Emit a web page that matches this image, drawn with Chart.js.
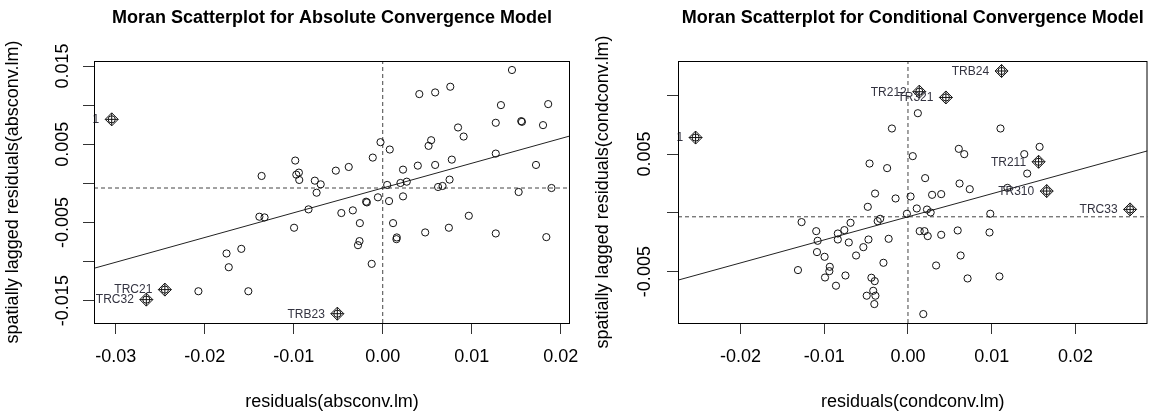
<!DOCTYPE html>
<html>
<head>
<meta charset="utf-8">
<script src="https://cdn.jsdelivr.net/npm/chart.js@4.4.0/dist/chart.umd.min.js"></script>
<style>
  html, body { margin: 0; padding: 0; background: #fff; overflow: hidden; }
  #wrap { position: relative; width: 1155px; height: 414px; }
  canvas { position: absolute; top: 0; }
  #absChart { left: 0; width: 590px; height: 414px; }
  #condChart { left: 577px; width: 578px; height: 414px; }
</style>
</head>
<body>
<div id="wrap">
  <canvas id="absChart" width="590" height="414"></canvas>
  <canvas id="condChart" width="578" height="414"></canvas>
</div>
<script>
// --- absolute convergence model ---
const absResid = [0.01452, 0.00411, 0.00589, 0.00759, 0.01328, 0.01859, 0.01270, 0.01556, 0.01564, 0.01801,
  0.00846, 0.00909, 0.00544, 0.00515, -0.00025, 0.00079, 0.01270, -0.00112, 0.00776, 0.00589,
  0.00394, 0.00228, 0.01722, -0.00382, -0.00527, -0.00983, -0.01361, -0.00971, -0.00942, -0.00938,
  -0.00763, -0.00697, -0.00743, 0.00050, 0.00199, 0.00270, 0.00751, 0.00622, 0.00672, 0.01527,
  0.01896, -0.00054, 0.00071, 0.00228, -0.00187, -0.00178, -0.00834, -0.00336, -0.00465, -0.01386,
  -0.01328, 0.00967, 0.00116, -0.00257, -0.00996, 0.00477, 0.00743, 0.01270, 0.01838, 0.00158,
  0.00154, -0.00261, -0.00278, -0.00124, -0.01589, -0.01755, -0.01730, -0.02071, -0.01510];
const absLagged = [0.01449, 0.01141, 0.01162, 0.01235, 0.01000, 0.01013, 0.00774, 0.00795, 0.00786, 0.00744,
  0.00714, 0.00598, 0.00551, 0.00479, 0.00526, 0.00432, 0.00380, 0.00329, 0.00303, 0.00235,
  0.00226, 0.00175, 0.00235, 0.00209, 0.00162, 0.00291, 0.00094, 0.00111, 0.00137, 0.00043,
  0.00034, -0.00013, -0.00120, -0.00021, 0.00004, 0.00021, 0.00047, -0.00047, -0.00034, -0.00111,
  -0.00060, -0.00179, -0.00227, -0.00167, -0.00235, -0.00244, -0.00333, -0.00346, -0.00380, -0.00427,
  -0.00436, -0.00415, -0.00509, -0.00509, -0.00568, -0.00628, -0.00568, -0.00641, -0.00688, -0.00692,
  -0.00714, -0.00739, -0.00791, -0.01030, -0.00838, -0.00897, -0.01073, -0.01380, -0.01380];
const absInflResid = [-0.03045, -0.02448, -0.02656, -0.00510];
const absInflLagged = [0.00818, -0.01359, -0.01487, -0.01667];
const absInflNames = ['1', 'TRC21', 'TRC32', 'TRB23'];
const absSlope = 0.3164;
const absMeanLag = -0.0006;
const absXTicks = [-0.03, -0.02, -0.01, 0, 0.01, 0.02];
const absXTickLabels = ['-0.03', '-0.02', '-0.01', '0.00', '0.01', '0.02'];
const absYTicks = [-0.015, -0.01, -0.005, 0, 0.005, 0.01, 0.015];
const absYTickLabels = ['-0.015', '', '-0.005', '', '0.005', '', '0.015'];

// --- conditional convergence model ---
const condResid = [0.00118, -0.00192, 0.01105, 0.01572, 0.00607, 0.00672, 0.01389, 0.00057, -0.00459, -0.00249,
  0.01424, 0.00205, 0.00616, 0.00738, 0.01188, -0.00393, 0.00288, 0.00397, 0.00031, -0.00148,
  -0.00480, 0.00105, 0.00227, 0.00271, -0.00013, 0.00983, -0.00332, -0.00362, -0.01271, -0.00686,
  -0.00760, -0.00838, -0.01096, -0.01079, -0.00838, -0.00707, -0.00472, -0.00231, 0.00140, 0.00197,
  0.00236, 0.00397, 0.00594, 0.00974, -0.00533, -0.01087, -0.00996, -0.00620, 0.00629, -0.00293,
  0.00336, -0.00934, -0.00939, -0.01314, -0.00991, -0.00747, -0.00437, -0.00397, 0.00712, 0.01092,
  -0.00860, -0.00493, -0.00415, -0.00389, -0.00402, 0.00183];
const condLagged = [0.00847, 0.00717, 0.00717, 0.00561, 0.00544, 0.00499, 0.00499, 0.00482, 0.00419, 0.00380,
  0.00334, 0.00295, 0.00249, 0.00201, 0.00212, 0.00164, 0.00153, 0.00159, 0.00139, 0.00122,
  0.00051, 0.00037, 0.00028, 0.00003, -0.00008, -0.00008, -0.00051, -0.00071, -0.00079, -0.00085,
  -0.00147, -0.00176, -0.00156, -0.00238, -0.00227, -0.00252, -0.00227, -0.00221, -0.00156, -0.00156,
  -0.00198, -0.00187, -0.00150, -0.00167, -0.00292, -0.00334, -0.00374, -0.00363, -0.00363, -0.00425,
  -0.00448, -0.00459, -0.00496, -0.00487, -0.00550, -0.00533, -0.00552, -0.00581, -0.00558, -0.00541,
  -0.00620, -0.00705, -0.00663, -0.00705, -0.00776, -0.00861];
const condInflResid = [-0.02537, 0.01118, 0.00135, 0.00453, 0.01560, 0.01657, 0.02653];
const condInflLagged = [0.00640, 0.01206, 0.01030, 0.00981, 0.00434, 0.00185, 0.00029];
const condInflNames = ['1', 'TRB24', 'TR212', 'TR321', 'TR211', 'TR310', 'TRC33'];
const condSlope = 0.196;
const condMeanLag = -0.00034;
const condXTicks = [-0.02, -0.01, 0, 0.01, 0.02];
const condXTickLabels = ['-0.02', '-0.01', '0.00', '0.01', '0.02'];
const condYTicks = [-0.005, 0, 0.005, 0.01];
const condYTickLabels = ['-0.005', '', '0.005', ''];

const meanResid = 0;

Chart.defaults.font.family = "'Liberation Sans', Arial, sans-serif";
Chart.defaults.color = '#000';

// frame round the plot region
const boxPlugin = {
  id: 'box',
  afterDraw(chart) {
    const { ctx, chartArea: a } = chart;
    ctx.save();
    ctx.strokeStyle = '#000';
    ctx.lineWidth = 1;
    ctx.strokeRect(a.left + 0.5, a.top + 0.5, a.width - 1, a.height);
    ctx.restore();
  }
};

// names of the influential points, to the left of the marker
const labelPlugin = {
  id: 'inflLabels',
  afterDatasetsDraw(chart, args, opts) {
    const meta = chart.getDatasetMeta(opts.datasetIndex);
    const ctx = chart.ctx;
    ctx.save();
    ctx.font = "12px 'Liberation Sans', Arial, sans-serif";
    ctx.fillStyle = '#333340';
    ctx.textAlign = 'right';
    ctx.textBaseline = 'middle';
    meta.data.forEach((pt, i) => ctx.fillText(opts.names[i], pt.x - 12.5, pt.y + 0.5));
    ctx.restore();
  }
};

function moranChart(id, p) {
  const allX = p.resid.concat(p.inflResid);
  const allY = p.lagged.concat(p.inflLagged);
  const pts = allX.map((x, i) => ({ x, y: allY[i] }));
  const infl = p.inflResid.map((x, i) => ({ x, y: p.inflLagged[i] }));
  const fit = [p.xMin, p.xMax].map(x => ({ x, y: p.meanLag + p.slope * (x - meanResid) }));
  const tickGrid = { display: true, drawOnChartArea: false, drawTicks: true, tickLength: 11, tickColor: '#333', tickWidth: 1 };

  return new Chart(document.getElementById(id), {
    type: 'scatter',
    data: {
      datasets: [
        { data: pts, pointStyle: 'circle', pointRadius: 3.6, borderWidth: 1, borderColor: '#111', backgroundColor: 'rgba(0,0,0,0)' },
        { type: 'line', data: fit, borderColor: '#222', borderWidth: 1, pointRadius: 0 },
        { type: 'line', data: [{ x: p.xMin, y: p.meanLag }, { x: p.xMax, y: p.meanLag }], borderColor: '#444', borderWidth: 1, borderDash: [4, 3], pointRadius: 0 },
        { type: 'line', data: [{ x: meanResid, y: p.yMin }, { x: meanResid, y: p.yMax }], borderColor: '#444', borderWidth: 1, borderDash: [4, 3], pointRadius: 0 },
        { data: infl, pointStyle: 'rectRot', pointRadius: 6.5, borderWidth: 1, borderColor: '#111', backgroundColor: 'rgba(0,0,0,0)' },
        { data: infl, pointStyle: 'cross', pointRadius: 6.5, borderWidth: 1, borderColor: '#111', backgroundColor: 'rgba(0,0,0,0)' }
      ]
    },
    options: {
      responsive: false,
      animation: false,
      devicePixelRatio: 1,
      events: [],
      layout: { padding: { left: 0, top: 0, right: p.padRight, bottom: 0 } },
      plugins: {
        legend: { display: false },
        tooltip: { enabled: false },
        title: {
          display: true, text: p.title, fullSize: false, color: '#000',
          font: { size: 18, weight: 'bold' }, padding: { top: 7, bottom: 32.4 }
        },
        inflLabels: { datasetIndex: 4, names: p.inflNames }
      },
      scales: {
        x: {
          type: 'linear', min: p.xMin, max: p.xMax,
          afterBuildTicks: s => { s.ticks = p.xTicks.map(v => ({ value: v })); },
          ticks: { autoSkip: false, maxRotation: 0, padding: 12, font: { size: 18 }, color: '#000', callback: (v, i) => p.xTickLabels[i] },
          grid: tickGrid,
          border: { display: false },
          title: { display: true, text: p.xTitle, color: '#000', font: { size: 18 }, padding: { top: 0, bottom: 1.5 } },
          afterFit: s => { s.height = 91; s.paddingLeft = 0; s.paddingRight = 0; }
        },
        y: {
          type: 'linear', min: p.yMin, max: p.yMax,
          afterBuildTicks: s => { s.ticks = p.yTicks.map(v => ({ value: v })); },
          ticks: { autoSkip: false, minRotation: 90, maxRotation: 90, crossAlign: 'center', padding: p.yTickPad, font: { size: 18 }, color: '#000', callback: (v, i) => p.yTickLabels[i] },
          grid: tickGrid,
          border: { display: false },
          title: { display: true, text: p.yTitle, color: '#000', font: { size: 18 }, padding: { top: p.yTitlePad, bottom: 0 } },
          afterFit: s => { s.width = p.areaLeft; s.paddingTop = 0; s.paddingBottom = 0; }
        }
      }
    },
    plugins: [boxPlugin, labelPlugin]
  });
}

moranChart('absChart', {
  title: 'Moran Scatterplot for Absolute Convergence Model',
  xTitle: 'residuals(absconv.lm)',
  yTitle: 'spatially lagged residuals(absconv.lm)',
  resid: absResid, lagged: absLagged,
  inflResid: absInflResid, inflLagged: absInflLagged, inflNames: absInflNames,
  slope: absSlope, meanLag: absMeanLag,
  xTicks: absXTicks, xTickLabels: absXTickLabels, yTicks: absYTicks, yTickLabels: absYTickLabels,
  xMin: -0.03244, xMax: 0.02104, yMin: -0.01786, yMax: 0.01564,
  areaLeft: 94, padRight: 20, yTickPad: -5.3, yTitlePad: 2.7
});

moranChart('condChart', {
  title: 'Moran Scatterplot for Conditional Convergence Model',
  xTitle: 'residuals(condconv.lm)',
  yTitle: 'spatially lagged residuals(condconv.lm)',
  resid: condResid, lagged: condLagged,
  inflResid: condInflResid, inflLagged: condInflLagged, inflNames: condInflNames,
  slope: condSlope, meanLag: condMeanLag,
  xTicks: condXTicks, xTickLabels: condXTickLabels, yTicks: condYTicks, yTickLabels: condYTickLabels,
  xMin: -0.02747, xMax: 0.02861, yMin: -0.00937, yMax: 0.01291,
  areaLeft: 101, padRight: 2, yTickPad: -3.8, yTitlePad: 15.7
});
</script>
</body>
</html>
